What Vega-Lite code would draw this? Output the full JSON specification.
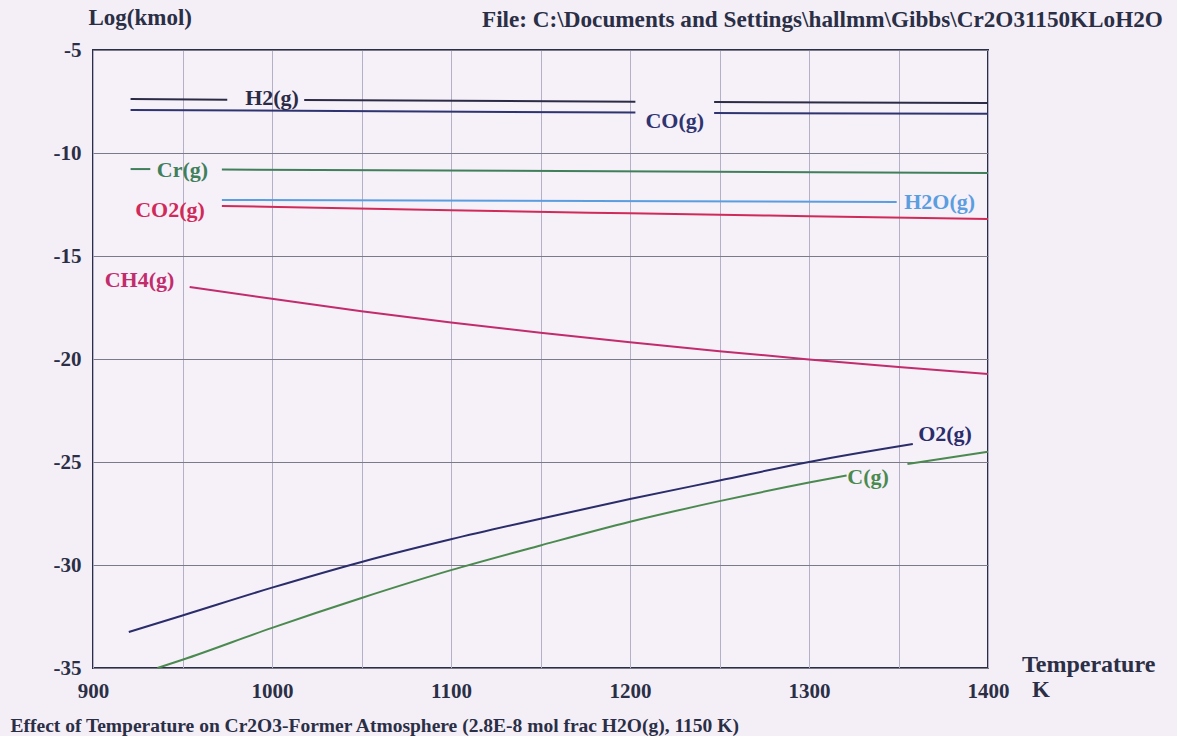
{
  "$schema": "https://vega.github.io/schema/vega-lite/v6.json",
  "width": 895,
  "height": 618,
  "autosize": {"type": "none"},
  "padding": {"left": 93, "top": 50, "right": 189, "bottom": 68},
  "background": "#f4eef7",
  "config": {
    "font": "Liberation Serif",
    "view": {"stroke": "#2a2f45", "strokeWidth": 2, "fill": "#f6f0f9"},
    "axis": {"labelFont": "Liberation Serif", "labelFontWeight": "bold", "labelFontSize": 21, "labelColor": "#2a2f45", "titleFont": "Liberation Serif", "titleFontWeight": "bold", "titleFontSize": 20, "titleColor": "#2a2f45", "domain": false, "ticks": false, "gridWidth": 1}
  },
  "datasets": {
    "lines": [
      {"sp": "H2(g)", "seg": "H2a", "T": 921, "v": -7.38},
      {"sp": "H2(g)", "seg": "H2a", "T": 975, "v": -7.41},
      {"sp": "H2(g)", "seg": "H2b", "T": 1018, "v": -7.43},
      {"sp": "H2(g)", "seg": "H2b", "T": 1203, "v": -7.51},
      {"sp": "H2(g)", "seg": "H2c", "T": 1247, "v": -7.53},
      {"sp": "H2(g)", "seg": "H2c", "T": 1400, "v": -7.57},
      {"sp": "CO(g)", "seg": "COa", "T": 921, "v": -7.91},
      {"sp": "CO(g)", "seg": "COa", "T": 1203, "v": -8.04},
      {"sp": "CO(g)", "seg": "COb", "T": 1247, "v": -8.06},
      {"sp": "CO(g)", "seg": "COb", "T": 1400, "v": -8.1},
      {"sp": "Cr(g)", "seg": "Cra", "T": 921, "v": -10.78},
      {"sp": "Cr(g)", "seg": "Cra", "T": 932, "v": -10.78},
      {"sp": "Cr(g)", "seg": "Crb", "T": 972, "v": -10.8},
      {"sp": "Cr(g)", "seg": "Crb", "T": 1400, "v": -10.97},
      {"sp": "H2O(g)", "seg": "H2O", "T": 972, "v": -12.28},
      {"sp": "H2O(g)", "seg": "H2O", "T": 1349, "v": -12.38},
      {"sp": "CO2(g)", "seg": "CO2", "T": 972, "v": -12.57},
      {"sp": "CO2(g)", "seg": "CO2", "T": 1100, "v": -12.78},
      {"sp": "CO2(g)", "seg": "CO2", "T": 1200, "v": -12.93},
      {"sp": "CO2(g)", "seg": "CO2", "T": 1300, "v": -13.07},
      {"sp": "CO2(g)", "seg": "CO2", "T": 1400, "v": -13.2},
      {"sp": "CH4(g)", "seg": "CH4", "T": 954, "v": -16.5},
      {"sp": "CH4(g)", "seg": "CH4", "T": 1000, "v": -17.08},
      {"sp": "CH4(g)", "seg": "CH4", "T": 1050, "v": -17.68},
      {"sp": "CH4(g)", "seg": "CH4", "T": 1100, "v": -18.23},
      {"sp": "CH4(g)", "seg": "CH4", "T": 1150, "v": -18.73},
      {"sp": "CH4(g)", "seg": "CH4", "T": 1200, "v": -19.19},
      {"sp": "CH4(g)", "seg": "CH4", "T": 1250, "v": -19.62},
      {"sp": "CH4(g)", "seg": "CH4", "T": 1300, "v": -20.02},
      {"sp": "CH4(g)", "seg": "CH4", "T": 1350, "v": -20.39},
      {"sp": "CH4(g)", "seg": "CH4", "T": 1400, "v": -20.73},
      {"sp": "O2(g)", "seg": "O2", "T": 920, "v": -33.25},
      {"sp": "O2(g)", "seg": "O2", "T": 950, "v": -32.45},
      {"sp": "O2(g)", "seg": "O2", "T": 1000, "v": -31.1},
      {"sp": "O2(g)", "seg": "O2", "T": 1050, "v": -29.85},
      {"sp": "O2(g)", "seg": "O2", "T": 1100, "v": -28.75},
      {"sp": "O2(g)", "seg": "O2", "T": 1150, "v": -27.75},
      {"sp": "O2(g)", "seg": "O2", "T": 1200, "v": -26.8},
      {"sp": "O2(g)", "seg": "O2", "T": 1250, "v": -25.9},
      {"sp": "O2(g)", "seg": "O2", "T": 1300, "v": -25.0},
      {"sp": "O2(g)", "seg": "O2", "T": 1358, "v": -24.13},
      {"sp": "C(g)", "seg": "Ca", "T": 936, "v": -35.0},
      {"sp": "C(g)", "seg": "Ca", "T": 950, "v": -34.6},
      {"sp": "C(g)", "seg": "Ca", "T": 1000, "v": -33.05},
      {"sp": "C(g)", "seg": "Ca", "T": 1050, "v": -31.6},
      {"sp": "C(g)", "seg": "Ca", "T": 1100, "v": -30.25},
      {"sp": "C(g)", "seg": "Ca", "T": 1150, "v": -29.05},
      {"sp": "C(g)", "seg": "Ca", "T": 1200, "v": -27.9},
      {"sp": "C(g)", "seg": "Ca", "T": 1250, "v": -26.9},
      {"sp": "C(g)", "seg": "Ca", "T": 1300, "v": -26.0},
      {"sp": "C(g)", "seg": "Ca", "T": 1321, "v": -25.65},
      {"sp": "C(g)", "seg": "Cb", "T": 1355, "v": -25.1},
      {"sp": "C(g)", "seg": "Cb", "T": 1400, "v": -24.5}
    ],
    "labels": [
      {"sp": "H2(g)", "T": 1000, "v": -7.33},
      {"sp": "CO(g)", "T": 1225, "v": -8.45},
      {"sp": "Cr(g)", "T": 950, "v": -10.83},
      {"sp": "CO2(g)", "T": 943, "v": -12.77},
      {"sp": "H2O(g)", "T": 1373, "v": -12.38},
      {"sp": "CH4(g)", "T": 926, "v": -16.17},
      {"sp": "O2(g)", "T": 1376, "v": -23.64},
      {"sp": "C(g)", "T": 1333, "v": -25.73}
    ],
    "one": [{}]
  },
  "layer": [
    {
      "data": {"name": "lines"},
      "mark": {"type": "line", "strokeWidth": 2, "interpolate": "monotone"},
      "encoding": {
        "x": {"field": "T", "type": "quantitative", "scale": {"domain": [900, 1400], "nice": false, "zero": false},
          "axis": {"values": [900, 950, 1000, 1050, 1100, 1150, 1200, 1250, 1300, 1350, 1400], "format": "d", "labelExpr": "datum.value % 100 == 0 ? datum.label : ''", "labelPadding": 12, "labelFlush": false, "gridColor": "#b4b0c8",
            "title": "Effect of Temperature on Cr2O3-Former Atmosphere (2.8E-8 mol frac H2O(g), 1150 K)", "titleAnchor": "start", "titleAlign": "left", "titleX": -83, "titleY": 57, "titleBaseline": "middle", "titleFontSize": 19.5}},
        "y": {"field": "v", "type": "quantitative", "scale": {"domain": [-35, -5], "nice": false, "zero": false},
          "axis": {"values": [-35, -30, -25, -20, -15, -10, -5], "labelExpr": "'' + datum.value", "labelPadding": 12, "gridColor": "#7a7a88", "title": "Log(kmol)", "titleAngle": 0, "titleAlign": "left", "titleX": -5, "titleY": -33, "titleBaseline": "middle", "titleFontSize": 23}},
        "detail": {"field": "seg"},
        "color": {"field": "sp", "type": "nominal", "legend": null,
          "scale": {"domain": ["H2(g)", "CO(g)", "Cr(g)", "H2O(g)", "CO2(g)", "CH4(g)", "O2(g)", "C(g)"],
            "range": ["#2b2b45", "#2e3470", "#3f7f5a", "#5a9ee0", "#d02a58", "#c22c6c", "#2a2d6a", "#4a8a4e"]}}
      }
    },
    {
      "data": {"name": "labels"},
      "mark": {"type": "text", "font": "Liberation Serif", "fontWeight": "bold", "fontSize": 22, "align": "center", "baseline": "middle"},
      "encoding": {
        "x": {"field": "T", "type": "quantitative"},
        "y": {"field": "v", "type": "quantitative"},
        "text": {"field": "sp"},
        "color": {"field": "sp", "type": "nominal", "legend": null}
      }
    },
    {
      "data": {"name": "one"},
      "mark": {"type": "text", "text": "File: C:\\Documents and Settings\\hallmm\\Gibbs\\Cr2O31150KLoH2O", "font": "Liberation Serif", "fontWeight": "bold", "fontSize": 23.2, "align": "left", "baseline": "middle", "dx": 389, "dy": -30, "color": "#2a2f45"},
      "encoding": {"x": {"datum": 900, "type": "quantitative"}, "y": {"datum": -5, "type": "quantitative"}}
    },
    {
      "data": {"name": "one"},
      "mark": {"type": "text", "text": "Temperature", "font": "Liberation Serif", "fontWeight": "bold", "fontSize": 24, "align": "left", "baseline": "middle", "dx": 34, "dy": -3, "color": "#2a2f45"},
      "encoding": {"x": {"datum": 1400, "type": "quantitative"}, "y": {"datum": -35, "type": "quantitative"}}
    },
    {
      "data": {"name": "one"},
      "mark": {"type": "text", "text": "K", "font": "Liberation Serif", "fontWeight": "bold", "fontSize": 23, "align": "left", "baseline": "middle", "dx": 44, "dy": 22, "color": "#2a2f45"},
      "encoding": {"x": {"datum": 1400, "type": "quantitative"}, "y": {"datum": -35, "type": "quantitative"}}
    }
  ]
}
